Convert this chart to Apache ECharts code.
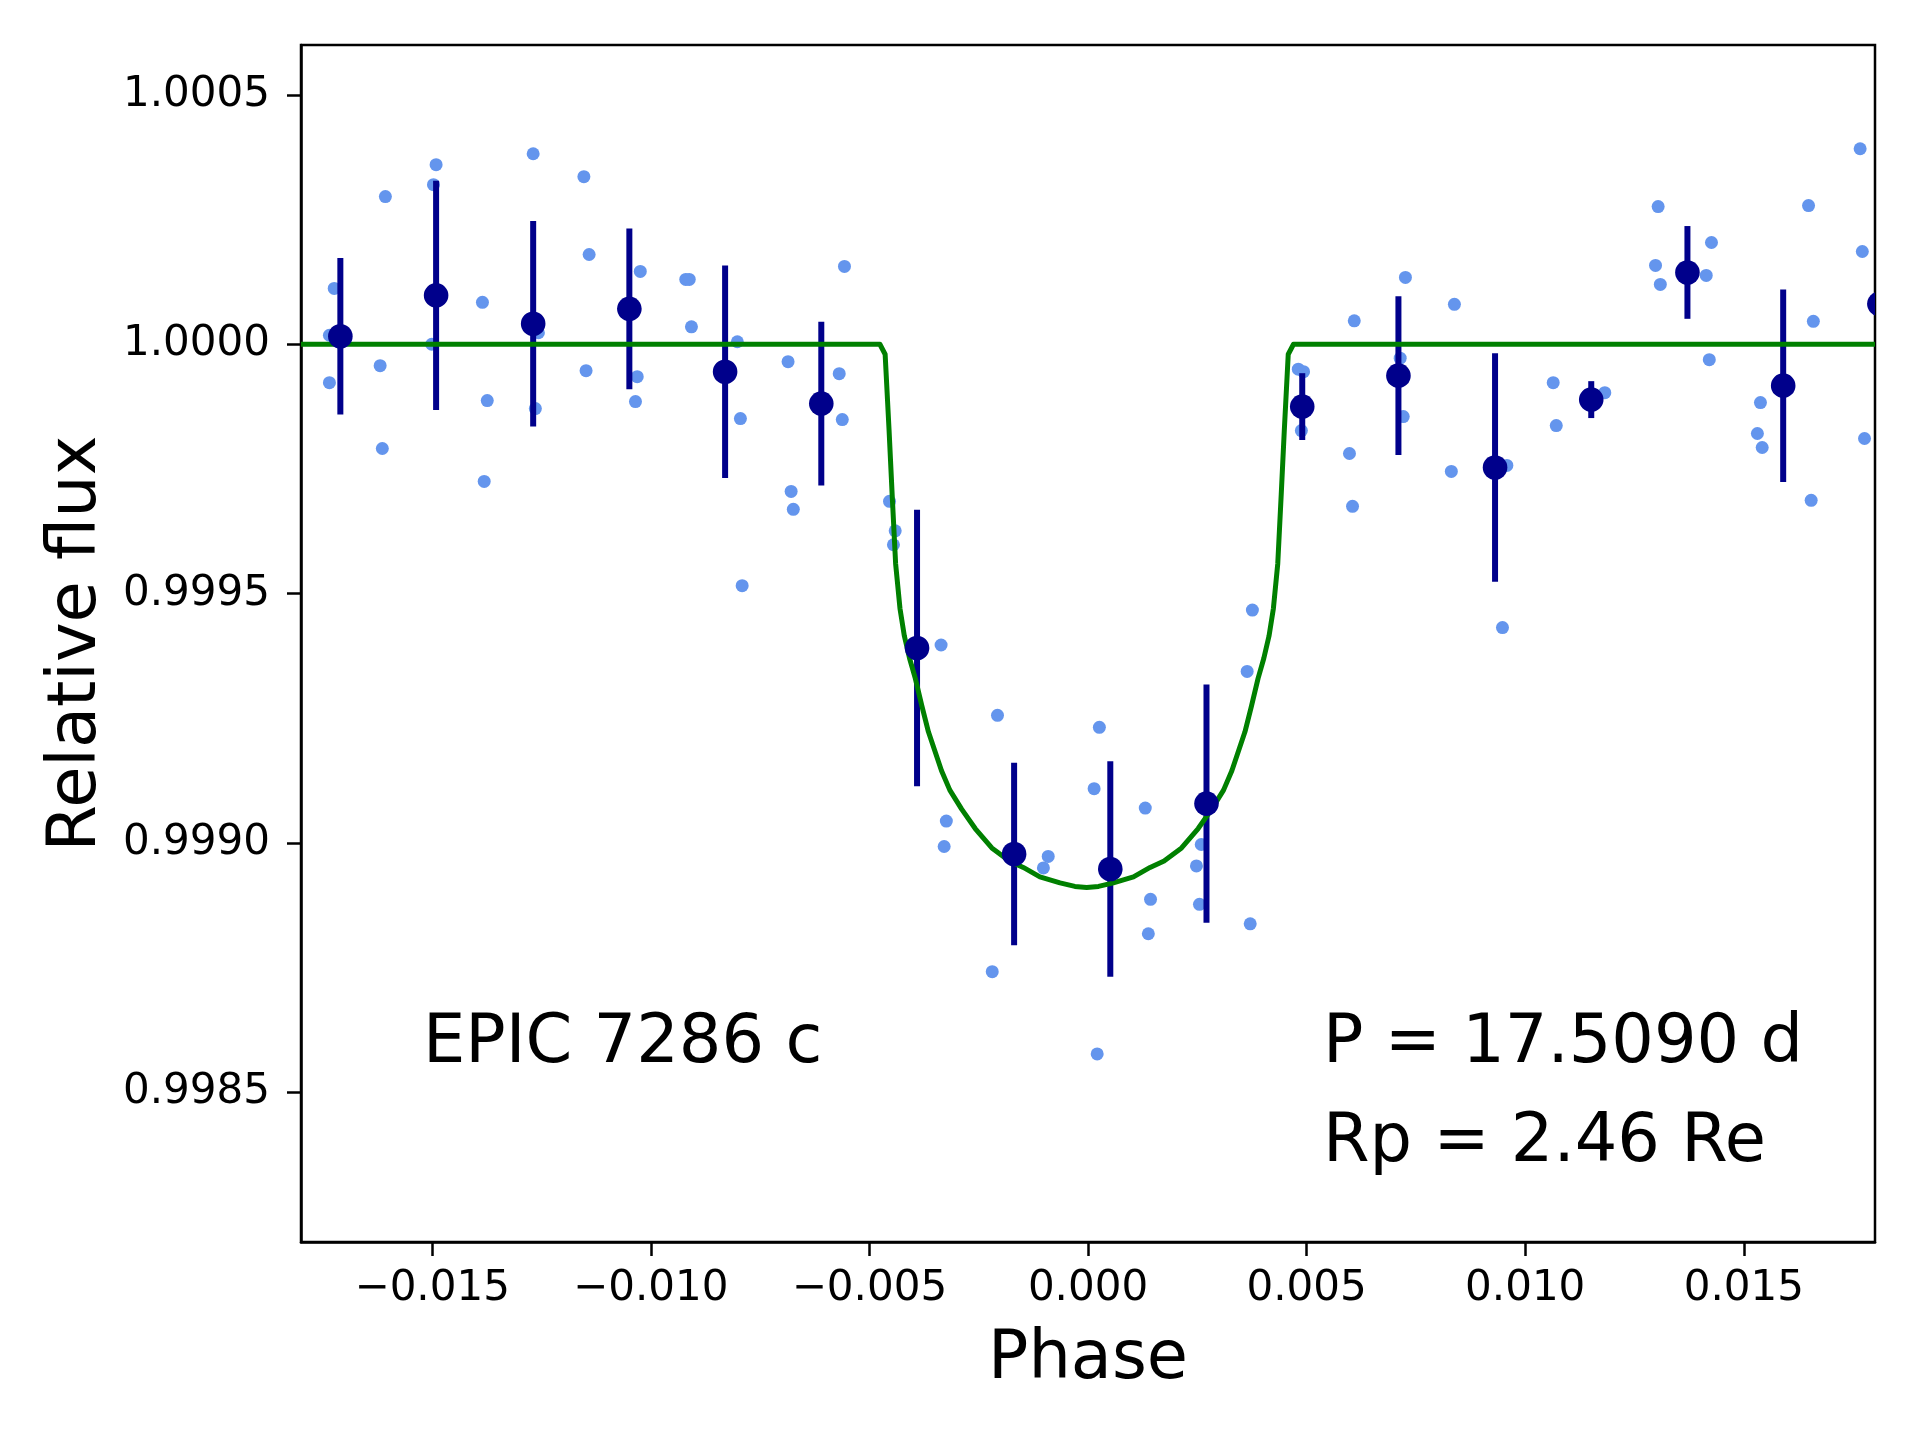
<!DOCTYPE html>
<html>
<head>
<meta charset="utf-8">
<script src="https://cdn.jsdelivr.net/npm/echarts@6/dist/echarts.min.js"></script>
<style>
  body { margin: 0; background: #fff; }
  #main { width: 1920px; height: 1440px; }
</style>
</head>
<body>
<div id="main"></div>
<script>
// 单个观测点 (phase, relative flux)
var ptPhase = [-0.01724, -0.01735, -0.01735, -0.01607, -0.01619, -0.01614, -0.01491, -0.01497, -0.01501,
  -0.01385, -0.01374, -0.01381, -0.01269, -0.01257, -0.01264, -0.01153, -0.01141, -0.01148,
  -0.01024, -0.01031, -0.01035, -0.00920, -0.00912, -0.00907, -0.00802, -0.00795, -0.00791,
  -0.00686, -0.00679, -0.00674, -0.00557, -0.00569, -0.00562, -0.00454, -0.00441, -0.00445,
  -0.00336, -0.00207, -0.00324, -0.00329, -0.00219, -0.00091, -0.00102, 0.00026, 0.00014, 0.00021,
  0.00131, 0.00143, 0.00138, 0.00259, 0.00248, 0.00255, 0.00371, 0.00364, 0.00376,
  0.00481, 0.00493, 0.00488, 0.00609, 0.00598, 0.00605, 0.00726, 0.00714, 0.00721,
  0.00838, 0.00831, 0.00948, 0.00958, 0.01064, 0.01071, 0.01182,
  0.01304, 0.01298, 0.01309, 0.01426, 0.01414, 0.01421, 0.01538, 0.01531, 0.01542,
  0.01648, 0.01659, 0.01654, 0.01766, 0.01771, 0.01776];
var ptFlux = [1.000112, 1.000018, 0.999923, 1.000296, 0.999957, 0.999791, 1.000360, 1.000320, 1.000000,
  1.000084, 0.999887, 0.999725, 1.000382, 1.000023, 0.999871, 1.000336, 1.000180, 0.999947,
  1.000146, 0.999935, 0.999885, 1.000130, 1.000130, 1.000035, 1.000005, 0.999851, 0.999516,
  0.999965, 0.999705, 0.999669, 1.000156, 0.999941, 0.999849, 0.999685, 0.999626, 0.999598,
  0.999397, 0.999256, 0.999044, 0.998993, 0.998742, 0.998973, 0.998950, 0.999232, 0.999109, 0.998577,
  0.999070, 0.998887, 0.998818, 0.998997, 0.998954, 0.998877, 0.998838, 0.999344, 0.999467,
  0.999950, 0.999945, 0.999827, 1.000047, 0.999781, 0.999675, 1.000134, 0.999972, 0.999855,
  1.000080, 0.999745, 0.999432, 0.999757, 0.999923, 0.999837, 0.999903,
  1.000276, 1.000158, 1.000120, 1.000204, 1.000138, 0.999969, 0.999883, 0.999821, 0.999793,
  1.000278, 1.000046, 0.999687, 1.000392, 1.000186, 0.999811];

// 分箱后的点 + 误差
var binPhase = [-0.01710, -0.01491, -0.01269, -0.01049, -0.00830, -0.00610, -0.00391, -0.00169, 0.00051,
  0.00271, 0.00490, 0.00710, 0.00931, 0.01151, 0.01371, 0.01590, 0.01810];
var binFlux = [1.000016, 1.000098, 1.000041, 1.000071, 0.999945, 0.999881, 0.999391, 0.998978, 0.998948,
  0.999079, 0.999875, 0.999937, 0.999753, 0.999889, 1.000144, 0.999917, 1.000081];
var binErr = [0.000157, 0.000230, 0.000206, 0.000161, 0.000213, 0.000164, 0.000277, 0.000183, 0.000216,
  0.000239, 0.000067, 0.000159, 0.000229, 0.000037, 0.000093, 0.000193, 0.000150];

// 模型曲线
var modelPhase = [-0.018, -0.00476, -0.00464, -0.00455, -0.00448, -0.00440, -0.00430, -0.00420, -0.00408,
  -0.00395, -0.00380, -0.00365, -0.00350, -0.00335, -0.00316, -0.00289, -0.00258, -0.00220, -0.00180,
  -0.00148, -0.00110, -0.00064, -0.00030, -0.00003,
  0.00024, 0.00058, 0.00104, 0.00142, 0.00174, 0.00214, 0.00252, 0.00283, 0.00310, 0.00329,
  0.00344, 0.00359, 0.00374, 0.00389, 0.00402, 0.00414, 0.00424, 0.00434, 0.00442, 0.00449,
  0.00458, 0.00470, 0.018];
var modelFlux = [1, 1, 0.999980, 0.999828, 0.999700, 0.999560, 0.999470, 0.999415, 0.999370,
  0.999330, 0.999275, 0.999223, 0.999184, 0.999145, 0.999106, 0.999068, 0.999029, 0.998990, 0.998964,
  0.998951, 0.998932, 0.998920, 0.998913, 0.998911,
  0.998913, 0.998920, 0.998932, 0.998951, 0.998964, 0.998990, 0.999029, 0.999068, 0.999106, 0.999145,
  0.999184, 0.999223, 0.999275, 0.999330, 0.999370, 0.999415, 0.999470, 0.999560, 0.999700, 0.999828,
  0.999980, 1, 1];

var xTicks = [-0.015, -0.010, -0.005, 0.000, 0.005, 0.010, 0.015];
var yTicks = [0.9985, 0.9990, 0.9995, 1.0000, 1.0005];

var FONT = "DejaVu Sans";

function fmt(v, d) {
  var s = Math.abs(v).toFixed(d);
  return v < -1e-12 ? "\u2212" + s : s;
}

var points = ptPhase.map(function (x, i) { return [x, ptFlux[i]]; });
var bins = binPhase.map(function (x, i) { return [x, binFlux[i], binErr[i]]; });
var model = modelPhase.map(function (x, i) { return [x, modelFlux[i]]; });

var myChart = echarts.init(document.getElementById("main"));

var option = {
  animation: false,
  backgroundColor: "#fff",
  grid: {
    left: 301, right: 45, top: 45, bottom: 198,
    show: true, borderColor: "#000", borderWidth: 2.5,
    containLabel: false, outerBoundsMode: "none"
  },
  xAxis: {
    type: "value",
    min: -0.018, max: 0.018,
    name: "Phase",
    nameLocation: "middle",
    nameGap: 85,
    nameMoveOverlap: false,
    nameTextStyle: { fontFamily: FONT, fontSize: 67, color: "#000" },
    axisLine: { show: true, onZero: false, lineStyle: { color: "#000", width: 2.5 } },
    axisTick: { show: true, inside: false, length: 14, lineStyle: { color: "#000", width: 2.5 }, customValues: xTicks },
    axisLabel: {
      customValues: xTicks, margin: 26,
      fontFamily: FONT, fontSize: 42, color: "#000",
      formatter: function (v) { return fmt(v, 3); }
    },
    splitLine: { show: false }
  },
  yAxis: {
    type: "value",
    min: 0.9982, max: 1.0006,
    name: "Relative flux",
    nameLocation: "middle",
    nameRotate: 90,
    nameGap: 190,
    nameMoveOverlap: false,
    nameTextStyle: { fontFamily: FONT, fontSize: 67, color: "#000" },
    axisLine: { show: true, onZero: false, lineStyle: { color: "#000", width: 2.5 } },
    axisTick: { show: true, inside: false, length: 14, lineStyle: { color: "#000", width: 2.5 }, customValues: yTicks },
    axisLabel: {
      customValues: yTicks, margin: 31,
      fontFamily: FONT, fontSize: 42, color: "#000",
      formatter: function (v) { return fmt(v, 4); }
    },
    splitLine: { show: false }
  },
  series: [
    {
      type: "scatter",
      data: points,
      symbol: "circle",
      symbolSize: 13,
      itemStyle: { color: "#6495ED", opacity: 1 },
      z: 1
    },
    {
      // 误差棒
      type: "custom",
      clip: true,
      data: bins,
      z: 2,
      renderItem: function (params, api) {
        var x = api.value(0), y = api.value(1), e = api.value(2);
        var p1 = api.coord([x, y + e]);
        var p2 = api.coord([x, y - e]);
        return {
          type: "line",
          shape: { x1: p1[0], y1: p1[1], x2: p2[0], y2: p2[1] },
          style: { stroke: "#00008B", lineWidth: 6 }
        };
      }
    },
    {
      type: "line",
      data: model,
      showSymbol: false,
      symbol: "none",
      clip: true,
      lineStyle: { color: "#008000", width: 5, join: "round" },
      z: 3
    },
    {
      // 分箱点
      type: "custom",
      clip: true,
      data: bins,
      z: 4,
      renderItem: function (params, api) {
        var c = api.coord([api.value(0), api.value(1)]);
        return {
          type: "circle",
          shape: { cx: c[0], cy: c[1], r: 12.3 },
          style: { fill: "#00008B" }
        };
      }
    }
  ],
  graphic: [
    {
      type: "text", left: 423, top: 1011,
      style: { text: "EPIC 7286 c", fontFamily: FONT, fontSize: 67, fill: "#000" }
    },
    {
      type: "text", left: 1323, top: 1011,
      style: { text: "P = 17.5090 d", fontFamily: FONT, fontSize: 67, fill: "#000" }
    },
    {
      type: "text", left: 1323, top: 1110,
      style: { text: "Rp = 2.46 Re", fontFamily: FONT, fontSize: 67, fill: "#000" }
    }
  ]
};

myChart.setOption(option);
</script>
</body>
</html>
